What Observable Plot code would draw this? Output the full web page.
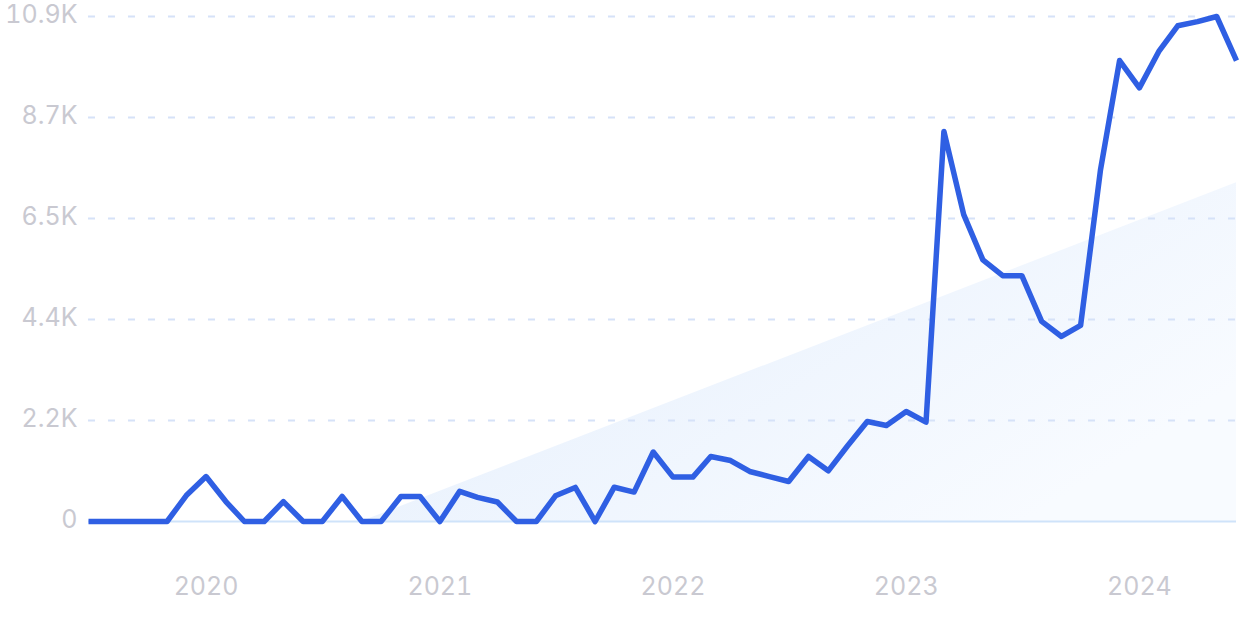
<!DOCTYPE html>
<html>
<head>
<meta charset="utf-8">
<script src="https://cdn.jsdelivr.net/npm/d3@7"></script>
<script src="https://cdn.jsdelivr.net/npm/@observablehq/plot@0.6"></script>
<style>
  html, body { margin: 0; padding: 0; background: #ffffff; }
  #chart { width: 1242px; height: 620px; }
</style>
</head>
<body>
<div id="chart"></div>
<script>
// Monthly values, Jul 2019 – Jun 2024
const months = [
  "2019-07","2019-08","2019-09","2019-10","2019-11","2019-12",
  "2020-01","2020-02","2020-03","2020-04","2020-05","2020-06","2020-07","2020-08","2020-09","2020-10","2020-11","2020-12",
  "2021-01","2021-02","2021-03","2021-04","2021-05","2021-06","2021-07","2021-08","2021-09","2021-10","2021-11","2021-12",
  "2022-01","2022-02","2022-03","2022-04","2022-05","2022-06","2022-07","2022-08","2022-09","2022-10","2022-11","2022-12",
  "2023-01","2023-02","2023-03","2023-04","2023-05","2023-06","2023-07","2023-08","2023-09","2023-10","2023-11","2023-12",
  "2024-01","2024-02","2024-03","2024-04","2024-05","2024-06"
];
const values = [
  0, 0, 0, 0, 0, 560,
  970, 430, 0, 0, 430, 0, 0, 540, 0, 0, 540, 540,
  0, 650, 520, 420, 0, 0, 555, 735, 0, 740, 635, 1500,
  958, 958, 1403, 1316, 1080, 970, 863, 1403, 1094, 1630, 2158, 2072,
  2374, 2145, 8420, 6625, 5647, 5306, 5306, 4320, 3994, 4234, 7580, 9950,
  9360, 10160, 10700, 10790, 10900, 9950
];

// Trend area (linear, from zero)
const trendMonths = ["2020-09", "2024-06"];
const trendValues = [0, 7310];

// Axis ticks
const yTicks = [0, 2180, 4360, 6540, 8720, 10900];
const yTickLabels = ["0", "2.2K", "4.4K", "6.5K", "8.7K", "10.9K"];
const xTickYears = ["2020-01", "2021-01", "2022-01", "2023-01", "2024-01"];
const xTickLabels = ["2020", "2021", "2022", "2023", "2024"];

const parse = d3.utcParse("%Y-%m");
const data = months.map((m, i) => ({date: parse(m), value: values[i]}));
const trend = trendMonths.map((m, i) => ({date: parse(m), value: trendValues[i]}));
const xTicks = xTickYears.map(parse);
const xLabelMap = new Map(xTicks.map((d, i) => [+d, xTickLabels[i]]));
const yLabelMap = new Map(yTicks.map((d, i) => [d, yTickLabels[i]]));

const font = "Inter, 'Noto Sans', sans-serif";

const chart = Plot.plot({
  width: 1242,
  height: 620,
  marginLeft: 88,
  marginRight: 6,
  marginTop: 16,
  marginBottom: 99,
  style: {fontFamily: font, background: "#ffffff", overflow: "visible"},
  x: {type: "utc", domain: [data[0].date, data[data.length - 1].date]},
  y: {domain: [0, 10900]},
  marks: [
    Plot.areaY(trend, {x: "date", y: "value", fill: "url(#trendGrad)"}),
    Plot.ruleY(yTicks.filter(d => d > 0), {stroke: "#d6e2f8", strokeWidth: 2, strokeDasharray: "7,13"}),
    Plot.ruleY([0], {stroke: "#cfe3fa", strokeWidth: 2}),
    Plot.line(data, {x: "date", y: "value", stroke: "#2f5fe3", strokeWidth: 5.5, strokeLinejoin: "round", strokeLinecap: "butt"}),
    Plot.axisY({
      ticks: yTicks, tickSize: 0, tickPadding: 11, label: null,
      tickFormat: d => yLabelMap.get(d),
      fontSize: 25, fill: "#c9c9d1", dy: -2
    }),
    Plot.axisX({
      ticks: xTicks, tickSize: 0, tickPadding: 56, label: null,
      tickFormat: d => xLabelMap.get(+d),
      fontSize: 25, fill: "#c9c9d1"
    })
  ]
});

const svg = chart.tagName.toLowerCase() === "svg" ? chart : chart.querySelector("svg");
svg.insertAdjacentHTML("afterbegin",
  '<defs><linearGradient id="trendGrad" x1="0" y1="0" x2="1" y2="0.6">' +
  '<stop offset="0" stop-color="#e2edfc"/>' +
  '<stop offset="1" stop-color="#f8fbff"/>' +
  '</linearGradient></defs>');
document.getElementById("chart").appendChild(chart);
</script>
</body>
</html>
